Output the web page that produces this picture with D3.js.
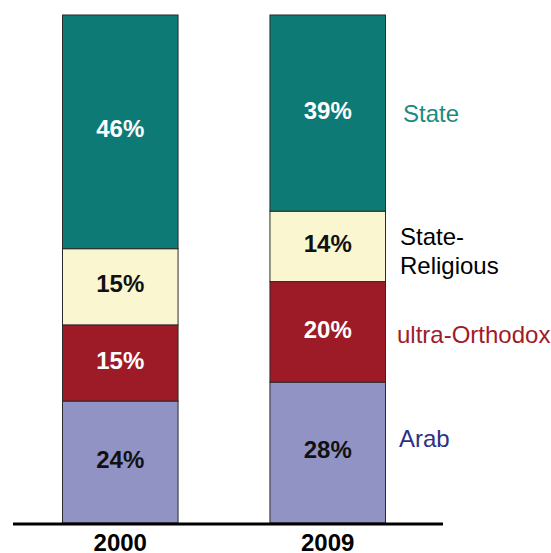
<!DOCTYPE html>
<html>
<head>
<meta charset="utf-8">
<script src="https://cdn.jsdelivr.net/npm/d3@7"></script>
<style>
  html, body { margin: 0; padding: 0; background: #fff; }
  svg { display: block; }
  text { font-family: "Liberation Sans", Arial, sans-serif; }
</style>
</head>
<body>
<div id="chart"></div>
<script>
// School enrolment shares by education sector
const years = ["2000", "2009"];
const sectors = ["Arab", "ultra-Orthodox", "State-Religious", "State"];
const arab = [24, 28];
const ultraOrthodox = [15, 20];
const stateReligious = [15, 14];
const state = [46, 39];
const sectorLabels = [["Arab"], ["ultra-Orthodox"], ["State-", "Religious"], ["State"]];

const fills = ["#9293c5", "#9d1b26", "#faf7d0", "#0e7a76"];
const valueColors = ["#111", "#fff", "#111", "#fff"];
const labelColors = ["#2e3085", "#a01b2a", "#000", "#1a8a82"];

const width = 551, height = 553;
const baseY = 523, topY = 15;

const rows = years.map((y, i) => ({
  year: y,
  "Arab": arab[i],
  "ultra-Orthodox": ultraOrthodox[i],
  "State-Religious": stateReligious[i],
  "State": state[i]
}));

// Each bar fills the full height (shares are normalised per year)
const series = d3.stack()
  .keys(sectors)
  .offset(d3.stackOffsetExpand)(rows);

const x = d3.scaleBand().domain(years).range([62.5, 385.5]).paddingInner(0.443).paddingOuter(0);
const y = d3.scaleLinear().domain([0, 1]).range([baseY, topY]);

const svg = d3.select("#chart").append("svg")
  .attr("width", width).attr("height", height);

const groups = svg.selectAll("g.series").data(series).join("g")
  .attr("class", "series");

groups.selectAll("rect").data((s, si) => s.map(d => ({d, si}))).join("rect")
  .attr("x", o => x(o.d.data.year))
  .attr("width", x.bandwidth())
  .attr("y", o => y(o.d[1]))
  .attr("height", o => y(o.d[0]) - y(o.d[1]))
  .attr("fill", o => fills[o.si])
  .attr("stroke", "#2a2a2a")
  .attr("stroke-width", 1);

groups.selectAll("text.val").data((s, si) => s.map(d => ({d, si, key: s.key}))).join("text")
  .attr("class", "val")
  .attr("x", o => x(o.d.data.year) + x.bandwidth() / 2)
  .attr("y", o => (y(o.d[0]) + y(o.d[1])) / 2 - 3)
  .attr("dy", "0.36em")
  .attr("text-anchor", "middle")
  .attr("font-size", 24)
  .attr("font-weight", "bold")
  .attr("fill", o => valueColors[o.si])
  .text(o => o.d.data[o.key] + "%");

// Sector names to the right of the 2009 bar
const last = series.map(s => s[1]);
const labelX = [399, 397, 400, 403];
const labelOff = [-14.5, 2.5, 4.5, 0];
sectorLabels.forEach((lines, si) => {
  const d = last[si];
  const mid = (y(d[0]) + y(d[1])) / 2;
  const t = svg.append("text")
    .attr("x", labelX[si])
    .attr("font-size", 24)
    .attr("fill", labelColors[si]);
  const lh = 29;
  lines.forEach((ln, li) => {
    t.append("tspan")
      .attr("x", labelX[si])
      .attr("y", mid + labelOff[si] + (li - (lines.length - 1) / 2) * lh)
      .attr("dy", "0.36em")
      .text(ln);
  });
});

// Baseline
svg.append("line")
  .attr("x1", 13).attr("x2", 443)
  .attr("y1", baseY + 1).attr("y2", baseY + 1)
  .attr("stroke", "#000").attr("stroke-width", 3);

// Year labels
svg.selectAll("text.year").data(years).join("text")
  .attr("class", "year")
  .attr("x", d => x(d) + x.bandwidth() / 2)
  .attr("y", 542.5)
  .attr("dy", "0.36em")
  .attr("text-anchor", "middle")
  .attr("font-size", 24)
  .attr("font-weight", "bold")
  .attr("fill", "#000")
  .text(d => d);
</script>
</body>
</html>
